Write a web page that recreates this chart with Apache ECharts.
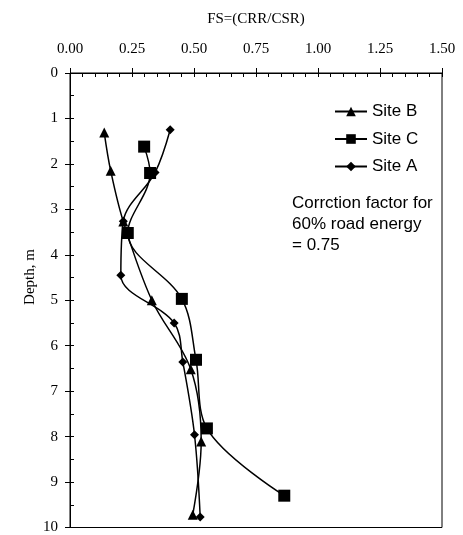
<!DOCTYPE html>
<html>
<head>
<meta charset="utf-8">
<script src="https://cdn.jsdelivr.net/npm/echarts@6/dist/echarts.min.js"></script>
<style>
  html, body { margin: 0; padding: 0; background: #fff; }
  #chart { width: 463px; height: 535px; }
</style>
</head>
<body>
<div id="chart"></div>
<script>
// values: FS against depth (m)
const siteBDepth = [1.31, 2.15, 3.27, 5.0, 6.52, 8.11, 9.72];
const siteBFs    = [0.138, 0.164, 0.215, 0.33, 0.487, 0.529, 0.495];

const siteCDepth = [1.62, 2.20, 3.52, 4.97, 6.31, 7.82, 9.30];
const siteCFs    = [0.299, 0.323, 0.233, 0.451, 0.508, 0.552, 0.864];

const siteADepth = [1.25, 2.19, 3.26, 4.45, 5.50, 6.36, 7.96, 9.77];
const siteAFs    = [0.404, 0.343, 0.215, 0.205, 0.420, 0.455, 0.502, 0.525];

const noteLines = ['Corrction factor for', '60% road energy', '= 0.75'];

function pairs(fs, depth) {
  let out = [];
  for (let i = 0; i < fs.length; i++) {
    out.push([fs[i], depth[i]]);
  }
  return out;
}

const serif = 'Liberation Serif';
const sans = 'Liberation Sans';

var chart = echarts.init(document.getElementById('chart'));

function siteSeries(name, symbol, size, data) {
  return {
    name: name,
    type: 'line',
    smooth: 0.35,
    symbol: symbol,
    symbolSize: size,
    data: data,
    lineStyle: { color: '#000', width: 1.5 },
    itemStyle: { color: '#000' },
    emphasis: { disabled: true },
    z: 3
  };
}

var option = {
  animation: false,
  grid: {
    left: 70, right: 21, top: 73, bottom: 6,
    show: true, borderColor: '#000', borderWidth: 1
  },
  xAxis: [{
    type: 'value',
    position: 'top',
    min: 0, max: 1.5, interval: 0.25,
    name: 'FS=(CRR/CSR)',
    nameLocation: 'middle',
    nameGap: 46,
    nameTextStyle: { fontFamily: serif, fontSize: 15, color: '#000' },
    axisLine: { show: true, lineStyle: { color: '#000', width: 1 } },
    axisTick: { show: true, inside: true, length: 4, lineStyle: { color: '#000' } },
    minorTick: { show: true, splitNumber: 5, length: 4, lineStyle: { color: '#000' } },
    axisLabel: {
      margin: 16, fontFamily: serif, fontSize: 15, color: '#000',
      formatter: v => v.toFixed(2)
    },
    splitLine: { show: false }
  }, {
    // outer half of the major ticks
    type: 'value',
    position: 'top',
    min: 0, max: 1.5, interval: 0.25,
    axisLine: { show: false },
    axisTick: { show: true, inside: false, length: 5, lineStyle: { color: '#000' } },
    axisLabel: { show: false },
    splitLine: { show: false }
  }],
  yAxis: [{
    type: 'value',
    inverse: true,
    min: 0, max: 10, interval: 1,
    axisLine: { show: true, lineStyle: { color: '#000', width: 1 } },
    axisTick: { show: true, inside: true, length: 4, lineStyle: { color: '#000' } },
    minorTick: { show: true, splitNumber: 2, length: 4, lineStyle: { color: '#000' } },
    axisLabel: { margin: 12, fontFamily: serif, fontSize: 15, color: '#000' },
    splitLine: { show: false }
  }, {
    type: 'value',
    position: 'left',
    inverse: true,
    min: 0, max: 10, interval: 1,
    axisLine: { show: false },
    axisTick: { show: true, inside: false, length: 5, lineStyle: { color: '#000' } },
    axisLabel: { show: false },
    splitLine: { show: false }
  }],
  legend: {
    orient: 'vertical',
    left: 329, top: 98,
    itemWidth: 32, itemHeight: 12,
    itemGap: 10.5,
    selectedMode: false,
    textStyle: { fontFamily: sans, fontSize: 17, color: '#000' },
    data: ['Site B', 'Site C', 'Site A']
  },
  graphic: [{
    type: 'text',
    x: 30, y: 277,
    rotation: Math.PI / 2,
    style: {
      text: 'Depth, m', fontFamily: serif, fontSize: 15, fill: '#000',
      align: 'center', verticalAlign: 'middle'
    }
  }, {
    type: 'text',
    left: 292, top: 193,
    style: {
      text: noteLines.join('\n'), fontFamily: sans, fontSize: 17,
      lineHeight: 21, fill: '#000'
    }
  }],
  series: [
    siteSeries('Site B', 'triangle', 10, pairs(siteBFs, siteBDepth)),
    siteSeries('Site C', 'rect', 12, pairs(siteCFs, siteCDepth)),
    siteSeries('Site A', 'diamond', 9, pairs(siteAFs, siteADepth))
  ]
};

chart.setOption(option);
</script>
</body>
</html>
